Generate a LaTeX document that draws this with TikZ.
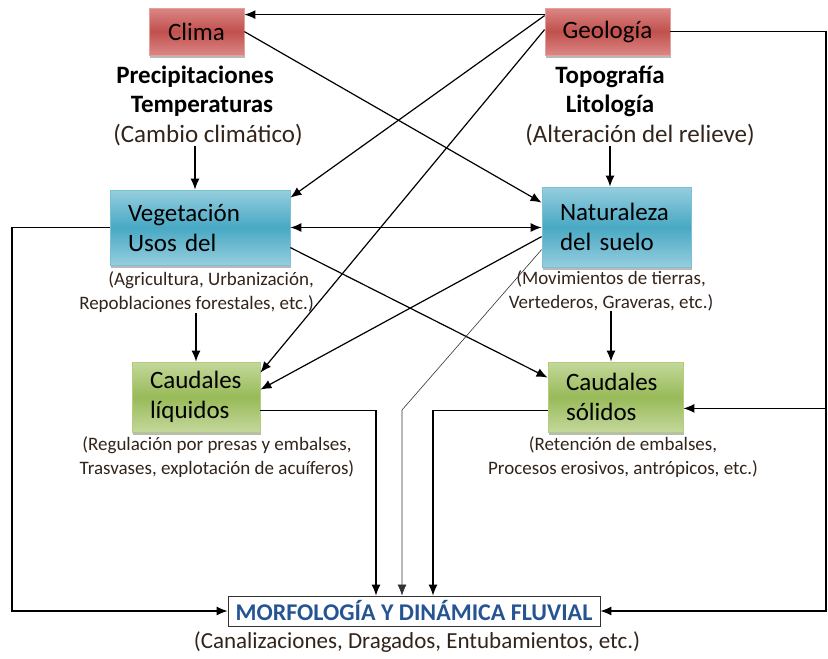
\documentclass[tikz,border=0pt]{standalone}
\usepackage{fontspec}
\setmainfont{Carlito}
\usetikzlibrary{calc,shadows,arrows.meta}
\definecolor{redtop}{RGB}{220,135,133}
\definecolor{redmid}{RGB}{192,80,77}
\definecolor{redline}{RGB}{226,160,158}
\definecolor{bluetop}{RGB}{150,206,222}
\definecolor{bluemid}{RGB}{72,168,196}
\definecolor{blueline}{RGB}{125,192,212}
\definecolor{greentop}{RGB}{196,216,156}
\definecolor{greenmid}{RGB}{152,186,88}
\definecolor{greenline}{RGB}{178,206,124}
\definecolor{captext}{RGB}{50,36,26}
\definecolor{morfblue}{RGB}{38,84,146}
\tikzstyle{factor} = [rectangle,inner sep=0pt,line width=0.8pt,font=\fontsize{25}{30}\selectfont,drop shadow={shadow xshift=1pt,shadow yshift=-3pt,opacity=0.55}]
\tikzstyle{redbox} = [factor,draw=redline,top color=redtop,bottom color=redtop,middle color=redmid]
\tikzstyle{bluebox} = [factor,draw=blueline,top color=bluetop,bottom color=bluetop,middle color=bluemid,align=left]
\tikzstyle{greenbox} = [factor,draw=greenline,top color=greentop,bottom color=greentop,middle color=greenmid,align=left]
\tikzstyle{title} = [font=\fontsize{25}{29}\selectfont\bfseries,inner sep=0pt]
\tikzstyle{caption} = [font=\fontsize{25}{29}\selectfont,text=captext,inner sep=0pt]
\tikzstyle{smallcap} = [font=\fontsize{19}{24}\selectfont,text=captext,inner sep=0pt]
\tikzstyle{edge} = [draw,line width=1.2pt,-{Latex[length=11pt,width=9pt]}]
\tikzstyle{thinedge} = [draw,line width=0.6pt,black!80,-{Latex[length=11pt,width=9pt]}]

\begin{document}
\begin{tikzpicture}[x=1pt,y=-1pt]
    \useasboundingbox (0,0) rectangle (828,659);
        % factores
        \node[redbox,minimum width=95,minimum height=47] (clima) at (196.5,31.5) {Clima};
        \node[redbox,minimum width=125,minimum height=47] (geo) at (607.5,31.5) {Geología};
        \node[bluebox,text width=144,minimum width=180,minimum height=75] (veg) at (200,227.5) {Vegetación\\Usos del};
        \node[bluebox,text width=113,minimum width=149,minimum height=80] (nat) at (616.5,227) {Naturaleza\\del suelo};
        \node[greenbox,text width=92,minimum width=128,minimum height=70] (cl) at (196,397) {Caudales\\líquidos};
        \node[greenbox,text width=99,minimum width=135,minimum height=70] (cs) at (615.5,397) {Caudales\\sólidos};
        \node[draw=black!80,line width=0.8pt,minimum width=372,minimum height=30,inner sep=0pt,
              font=\fontsize{24}{28}\selectfont\bfseries,text=morfblue] (morf) at (414,611) {MORFOLOGÍA Y DINÁMICA FLUVIAL};
        % textos
        \node[title] (precip) at (195,77) {Precipitaciones};
        \node[title] (temp) at (202,106) {Temperaturas};
        \node[caption] (cambio) at (208,135) {(Cambio climático)};
        \node[title] (topo) at (610,77) {Topografía};
        \node[title] (lito) at (610,106) {Litología};
        \node[caption] (relieve) at (640,135) {(Alteración del relieve)};
        \node[smallcap,align=right,anchor=east] (vegcap) at (314,292) {(Agricultura, Urbanización,\\Repoblaciones forestales, etc.)};
        \node[smallcap,align=center] (natcap) at (611,291) {(Movimientos de tierras,\\Vertederos, Graveras, etc.)};
        \node[smallcap,align=center] (clcap) at (217,457) {(Regulación por presas y embalses,\\Trasvases, explotación de acuíferos)};
        \node[smallcap,align=center] (cscap) at (623,457) {(Retención de embalses,\\Procesos erosivos, antrópicos, etc.)};
        \node[caption,font=\fontsize{23}{27}\selectfont] (morfcap) at (417,642) {(Canalizaciones, Dragados, Entubamientos, etc.)};
        \coordinate (leftrail) at (12,0);
        \coordinate (rightrail) at (826,0);
        \coordinate (bend) at (402,410);
        % conexiones
        \path[edge] ($(geo.north west)+(0,7)$) -- ($(clima.north east)+(0,7)$);
        \path[edge] ($(geo.north west)+(0,8)$) -- ($(veg.north east)+(0,8)$);
        \path[edge] ($(geo.north west)+(0,22)$) -- ($(cl.north east)+(0,11)$);
        \path[edge] ($(clima.north east)+(0,24)$) -- ($(nat.north west)+(0,16)$);
        \path[edge,{Latex[length=11pt,width=9pt]}-{Latex[length=11pt,width=9pt]}] (veg.east) -- (veg.east -| nat.west);
        \path[edge] ($(veg.north east)+(0,58)$) -- ($(cs.north west)+(0,16)$);
        \path[edge] ($(nat.north west)+(0,50)$) -- ($(cl.north east)+(0,28)$);
        \path[thinedge] ($(nat.north west)+(0,63)$) -- (bend) -- (bend |- morf.north);
        \path[edge] (cambio.south -| precip.south) -- (precip.south |- veg.north);
        \path[edge] (relieve.south -| topo.south) -- (topo.south |- nat.north);
        \path[edge] (vegcap.south -| cl.north) -- (cl.north);
        \path[edge] (natcap.south) -- (natcap.south |- cs.north);
        \path[edge] ($(cl.south east)+(0,-22)$) -| ([xshift=-38pt]morf.north);
        \path[edge] ($(cs.south west)+(0,-22)$) -| ([xshift=19pt]morf.north);
        \path[edge] (veg.west) -- (veg.west -| leftrail) |- (morf.west);
        \path[edge] (geo.east) -- (geo.east -| rightrail) |- (morf.east);
        \path[edge] ($(cs.south east -| rightrail)+(0,-24)$) -- ($(cs.south east)+(0,-24)$);
    \end{tikzpicture}
\end{document}
